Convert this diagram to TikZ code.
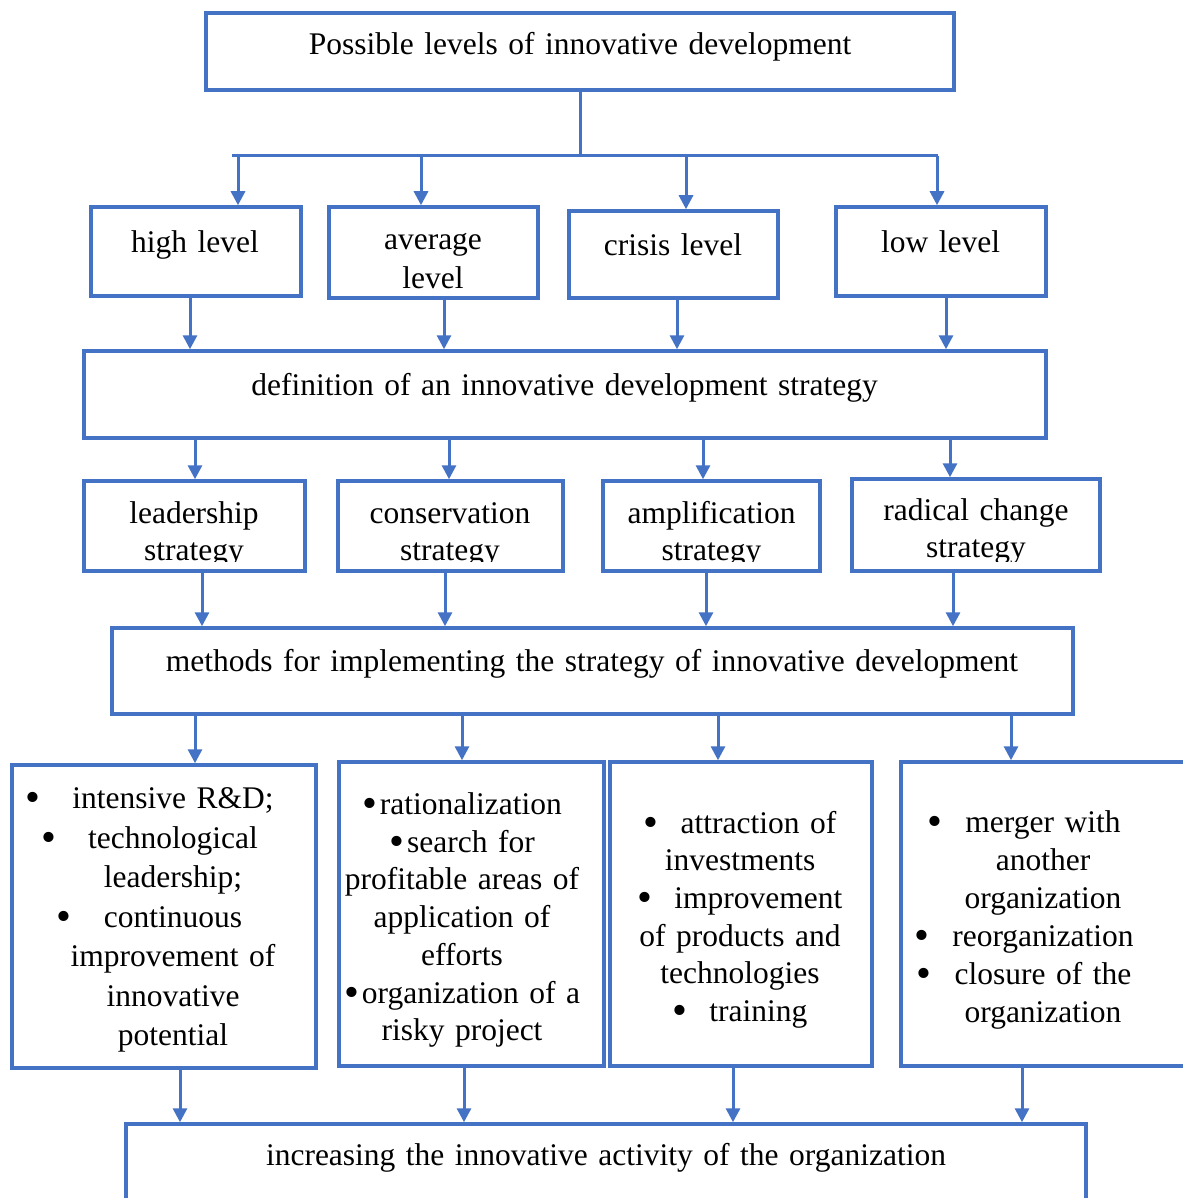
\documentclass[tikz,border=0pt]{standalone}
\usepackage{fontspec}
\setmainfont{Liberation Serif}
\usetikzlibrary{arrows.meta}
\definecolor{boxblue}{RGB}{68,114,196}
\newcommand{\bul}{\raisebox{-3pt}{\scalebox{1.35}{\textbullet}}}
\newcommand{\hangbul}[1]{\leavevmode\llap{\bul\hspace{#1}}}

\begin{document}
\begin{tikzpicture}[x=1pt, y=-1pt,
    >={Triangle[width=14pt, length=14pt]},
    box/.style={draw=boxblue, line width=3.5pt, inner sep=0pt},
    txt/.style={font=\fontsize{31.5}{#1}\selectfont, inner sep=0pt,
      align=center, anchor=base},
    txt/.default=38,
    arr/.style={->, draw=boxblue, line width=3pt},
    bus/.style={draw=boxblue, line width=3pt}]
  \useasboundingbox (0, 0) rectangle (1182, 1198);

  % boxes
  \node[box, minimum width=748, minimum height=77] (top) at (580, 51.5) {};
  \node[box, minimum width=210, minimum height=89] (high) at (196, 251.5) {};
  \node[box, minimum width=209, minimum height=91] (avg) at (433.5, 252.5) {};
  \node[box, minimum width=209, minimum height=87] (crisis) at (673.5, 254.5) {};
  \node[box, minimum width=210, minimum height=89] (low) at (941, 251.5) {};
  \node[box, minimum width=962, minimum height=87] (defn) at (565, 394.5) {};
  \node[box, minimum width=221, minimum height=90] (lead) at (194.5, 526) {};
  \node[box, minimum width=225, minimum height=90] (cons) at (450.5, 526) {};
  \node[box, minimum width=217, minimum height=90] (ampl) at (711.5, 526) {};
  \node[box, minimum width=248, minimum height=92] (radi) at (976, 525) {};
  \node[box, minimum width=961, minimum height=86] (meth) at (592.5, 671) {};
  \node[box, minimum width=304, minimum height=303] (mA) at (164, 916.5) {};
  \node[box, minimum width=265, minimum height=304] (mB) at (471.5, 914) {};
  \node[box, minimum width=262, minimum height=304] (mC) at (741, 914) {};
  \node[box, minimum width=294, minimum height=304] (mD) at (1048, 914) {};
  \node[box, minimum width=960, minimum height=106] (res) at (606, 1177) {};

  % texts
  \node[txt, text width=700] (topT) at (580, 55) {Possible levels of innovative development};
  \node[txt, text width=200] (highT) at (195, 252.5) {high level};
  \node[txt=39, text width=200] (avgT) at (433, 249.7) {average\\level};
  \node[txt, text width=200] (crisisT) at (673, 255.5) {crisis level};
  \node[txt, text width=200] (lowT) at (940.5, 252) {low level};
  \node[txt, text width=900] (defnT) at (564.5, 395) {definition of an innovative development strategy};
  \begin{scope}
    \clip (84, 470) rectangle (1100, 561);
    \node[txt=37, text width=210] (leadT) at (194, 523) {leadership\\strategy};
    \node[txt=37, text width=215] (consT) at (450, 523.4) {conservation\\strategy};
    \node[txt=37, text width=210] (amplT) at (711.5, 523.4) {amplification\\strategy};
    \node[txt=37, text width=240] (radiT) at (976, 520.5) {radical change\\strategy};
  \end{scope}
  \node[txt, text width=940] (methT) at (592, 671.5) {methods for implementing the strategy of innovative development};
  \node[txt=39.5, text width=280] (mAT) at (173, 808.5) {\hangbul{32pt}intensive R\&D;\\\hangbul{32pt}technological\\leadership;\\\hangbul{32pt}continuous\\improvement of\\innovative\\potential};
  \node[txt=37.7, text width=260] (mBT) at (462, 814.5) {\bul\hspace{3pt}rationalization\\\bul\hspace{3pt}search for\\profitable areas of\\application of\\efforts\\\bul\hspace{3pt}organization of a\\risky project};
  \node[txt=37.7, text width=255] (mCT) at (740, 833) {\bul\hspace{22pt}attraction of\\investments\\\bul\hspace{22pt}improvement\\of products and\\technologies\\\bul\hspace{22pt}training};
  \node[txt, text width=270] (mDT) at (1043, 832.5) {\hangbul{23pt}merger with\\another\\organization\\\hangbul{23pt}reorganization\\\hangbul{23pt}closure of the\\organization};
  \node[txt, text width=900] (resT) at (606, 1165.5) {increasing the innovative activity of the organization};

  % connectors
  \coordinate (busL) at (232, 156);
  \coordinate (busR) at (938, 156);
  \draw[bus] (top.south) -- (top.south |- busL);
  \draw[bus] (busL) -- (busR);
  \foreach \n/\dx in {high/42, avg/-12.5, crisis/12.5, low/-4}
    \draw[arr] ([xshift=\dx]\n.north |- busL) -- ([xshift=\dx]\n.north);
  \foreach \n/\dx in {high/-6, avg/10.5, crisis/3.5, low/5}
    \draw[arr] ([xshift=\dx]\n.south) -- ([xshift=\dx]\n.south |- defn.north);
  \foreach \n/\dx in {lead/0.5, cons/-1.5, ampl/-8.5, radi/-26}
    \draw[arr] ([xshift=\dx]\n.north |- defn.south) -- ([xshift=\dx]\n.north);
  \foreach \n/\dx in {lead/7.5, cons/-5.5, ampl/-5.5, radi/-23}
    \draw[arr] ([xshift=\dx]\n.south) -- ([xshift=\dx]\n.south |- meth.north);
  \foreach \n/\dx in {mA/31, mB/-9.5, mC/-23, mD/-37}
    \draw[arr] ([xshift=\dx]\n.north |- meth.south) -- ([xshift=\dx]\n.north);
  \foreach \n/\dx in {mA/16, mB/-7.5, mC/-8, mD/-26}
    \draw[arr] ([xshift=\dx]\n.south) -- ([xshift=\dx]\n.south |- res.north);
\end{tikzpicture}
\end{document}
